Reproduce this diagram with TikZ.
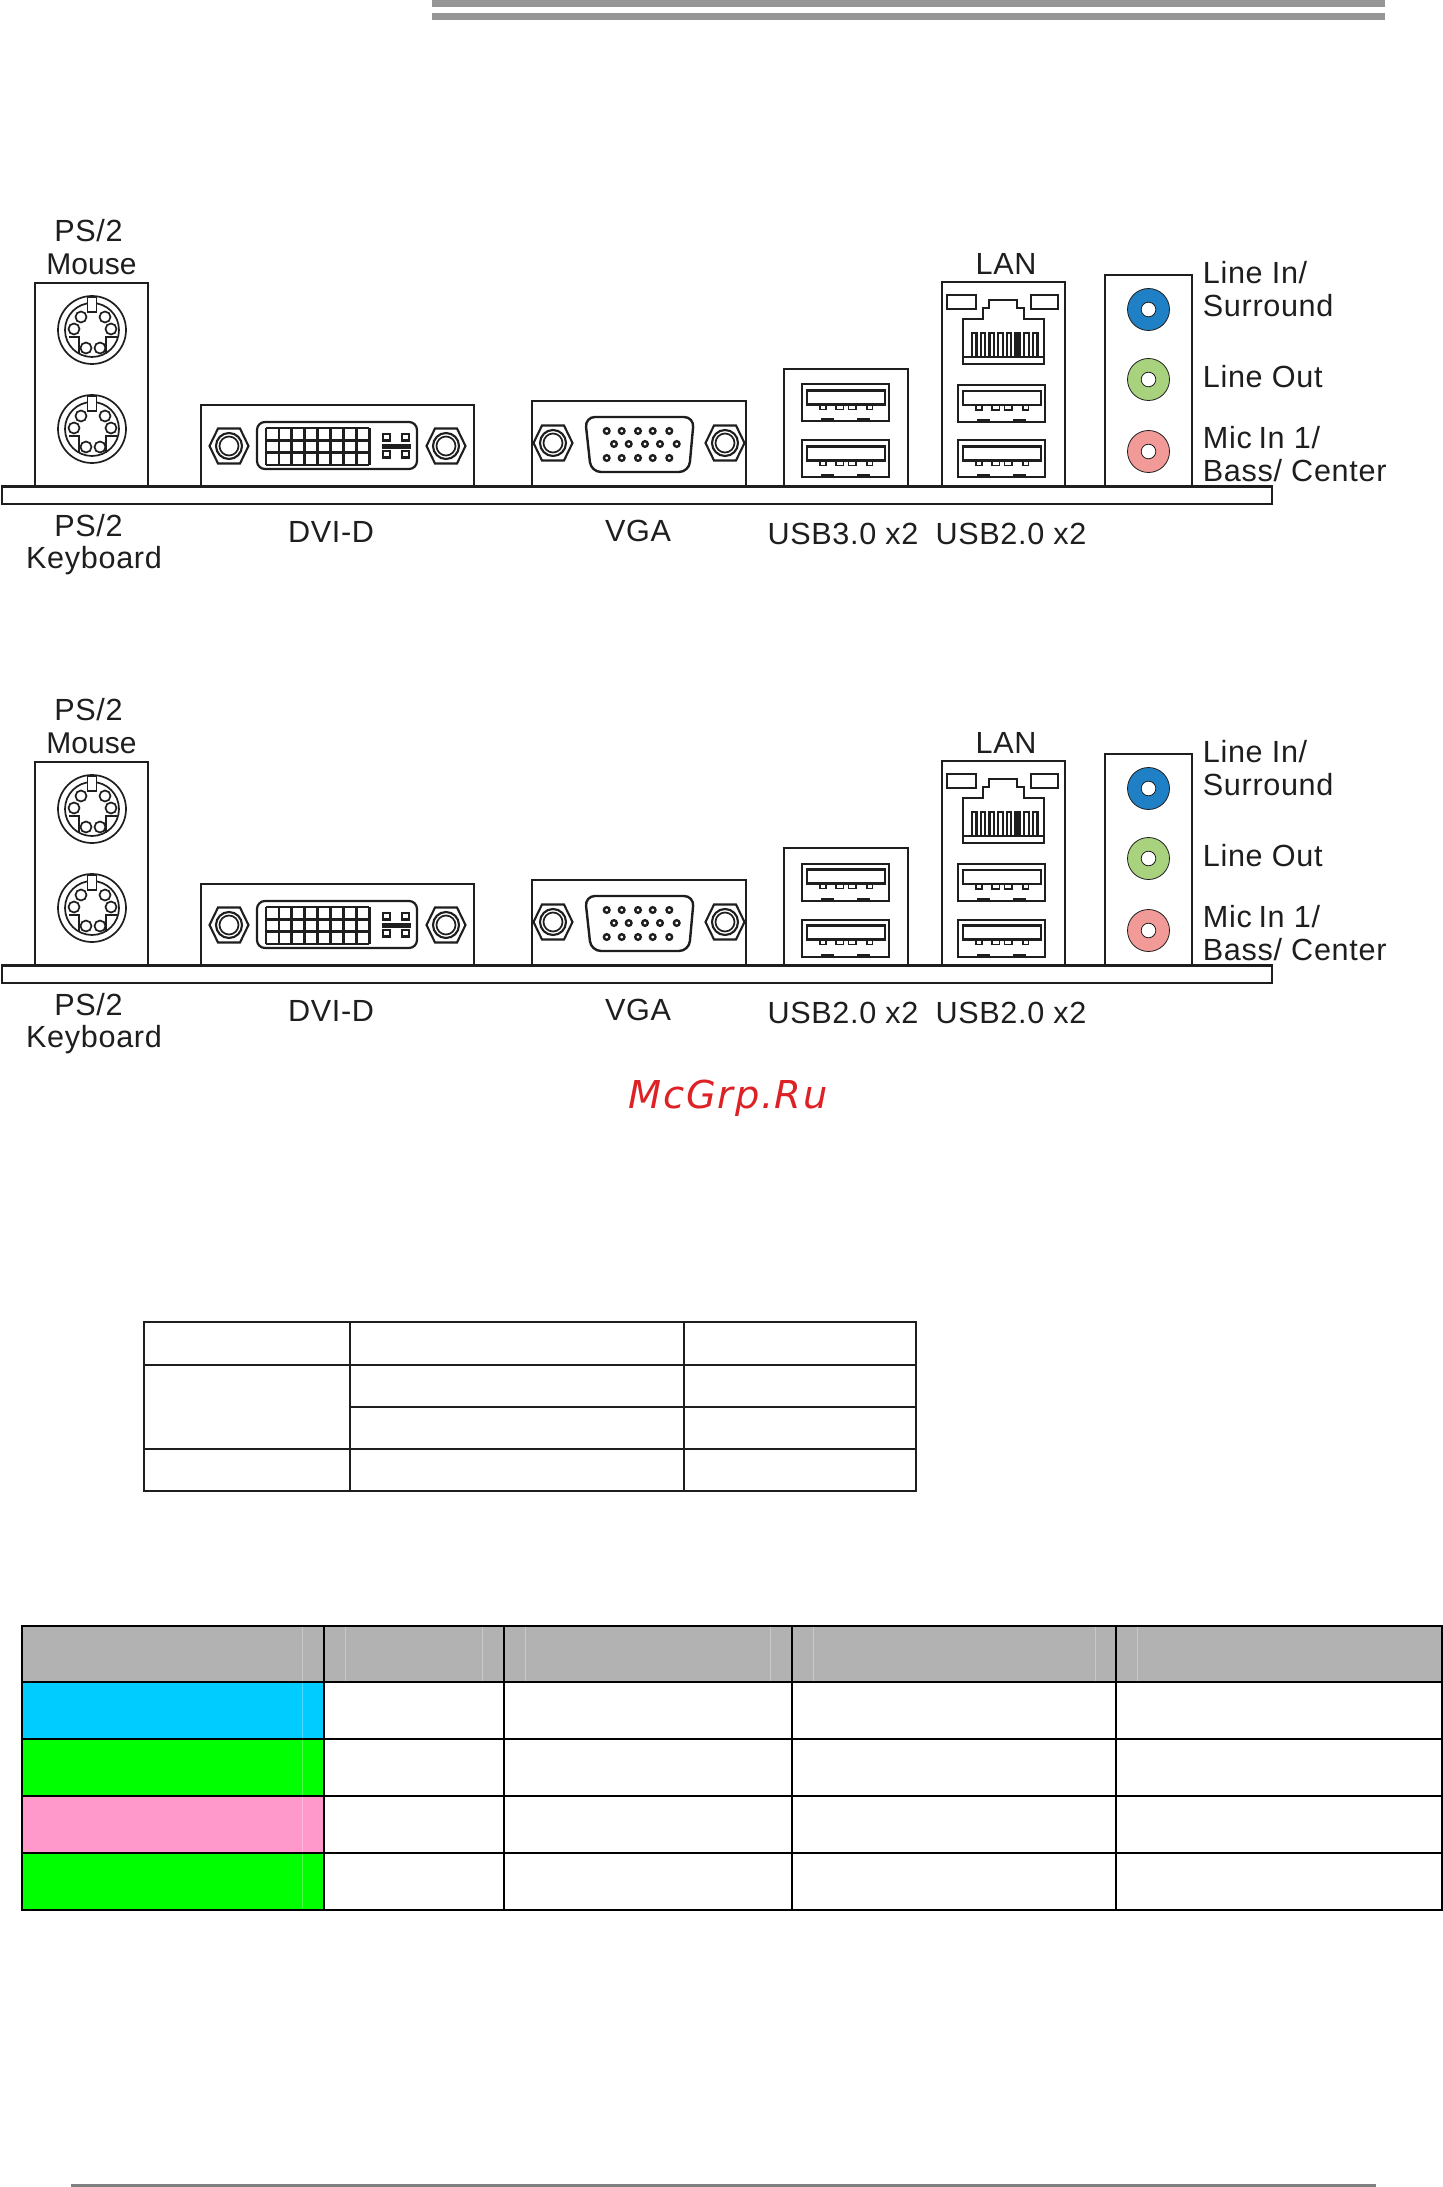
\documentclass[tikz,border=0pt]{standalone}
\usepackage{fontspec}
\newfontfamily\portfont[LetterSpace=2.2]{Liberation Sans}
\newfontfamily\tightfont{Liberation Sans}
\newfontfamily\markfont[LetterSpace=4.2]{DejaVu Sans Oblique}
\definecolor{inkcol}{HTML}{1E1E1E}
\definecolor{rulecol}{HTML}{969696}
\definecolor{footcol}{HTML}{808080}
\definecolor{headcol}{HTML}{B2B2B2}
\definecolor{bluejack}{HTML}{2080C6}
\definecolor{greenjack}{HTML}{A8D27E}
\definecolor{pinkjack}{HTML}{F29A98}
\definecolor{markcol}{HTML}{DD2226}
\definecolor{cyancell}{HTML}{00CCFF}
\definecolor{greencell}{HTML}{00FF00}
\definecolor{pinkcell}{HTML}{FF99CC}
\tikzset{
    portlabel/.style={font=\fontsize{15.3}{16}\portfont, text=inkcol, inner sep=0pt, anchor=base, yshift=-.6pt},
    sidelabel/.style={portlabel, anchor=base west},
    thickline/.style={line width=1.3pt},
    gridline/.style={line width=1pt},
    faintline/.style={white, opacity=.3, line width=.5pt},
    hexnut/.pic={
        \draw[fill=white, line width=1.05pt] (-19.5,0) -- (-11,-17.5) -- (11,-17.5) -- (19.5,0) -- (11,17.5) -- (-11,17.5) -- cycle;
        \draw[line width=1.05pt] (0,0) circle (13);
        \draw (0,0) circle (9.5);
    },
    ps2port/.pic={
        \draw (0,0) circle (34);
        \draw (0,0) circle (27);
        \draw[fill=white] (-4.5,-33) rectangle (4.5,-18);
        \foreach \px/\py in {-11/-13,13/-13,-18/-1,19/-1,-6/18,8/18}
            \draw (\px,\py) ellipse (5.5 and 5.5);
        \draw (-23,7) -- (-13,7) -- (-13,24);
        \draw (25,7) -- (14,7) -- (14,24);
    },
    usbport/.pic={
        \draw[line width=1pt] (0,0) rectangle (87,37);
        \draw[line width=1.2pt] (5,6) rectangle (83,20);
        \foreach \pa/\pb in {18/24,34/41.5,46.5/54,65/70.5}
            \draw[line width=.95pt] (\pa,20) rectangle (\pb,25);
        \fill[inkcol] (19,34) rectangle (32,37);
        \fill[inkcol] (55,34) rectangle (68,37);
    },
    jack/.pic={
        \draw[line width=.4pt, fill=jackfill] (0,0) circle (21);
        \draw[line width=.4pt, fill=white] (0,0) circle (7.3);
    }
}
\colorlet{jackfill}{bluejack}
\begin{document}
\begin{tikzpicture}[x=.5pt, y=-.5pt, line width=.85pt, draw=inkcol]
    \useasboundingbox (0,0) rectangle (1443,2187);
    % top rules
    \fill[rulecol] (432,0) rectangle (1385,7);
    \fill[rulecol] (432,13) rectangle (1385,20);
    % the two back panels
    \foreach \dy/\usbtext in {0/USB3.0 x2,479/USB2.0 x2} {
    \begin{scope}[shift={(0,\dy)}]
        % PS/2
        \draw (35,486) -- (35,283) -- (148,283) -- (148,486);
        \pic at (92,330) {ps2port};
        \pic at (92,429) {ps2port};
        \node[portlabel] (mousetop\dy) at (88.5,240) {PS/2};
        \node[portlabel, font=\fontsize{15}{16}\tightfont] (mousetxt\dy) at (91.5,273) {Mouse};
        \node[portlabel] (kbtop\dy) at (88.5,535) {PS/2};
        \node[portlabel] (kbtxt\dy) at (94,567) {Keyboard};
        % DVI
        \draw (201,486) -- (201,405) -- (474,405) -- (474,486);
        \pic at (229,446) {hexnut};
        \pic at (446,446) {hexnut};
        \draw[rounded corners=4pt, line width=1.1pt] (257,422) -- (417,422) -- (417,469) -- (257,469) -- cycle;
        \foreach \i in {0,...,8}
            \draw[line width=1.35pt] ({266+12.9*\i},428) -- ({266+12.9*\i},465);
        \foreach \j in {0,...,3}
            \draw[line width=1.35pt] (266,{428+12.33*\j}) -- (369,{428+12.33*\j});
        \foreach \px in {383,402}
            \foreach \py in {434,451}
                \draw[line width=1.1pt] (\px,\py) rectangle ++(7,6.5);
        \fill[inkcol] (382,444) rectangle (411,449);
        \node[portlabel] (dvitxt\dy) at (331,541) {DVI-D};
        % VGA
        \draw (532,486) -- (532,401) -- (746,401) -- (746,486);
        \pic at (553,443) {hexnut};
        \pic at (725,443) {hexnut};
        \draw[rounded corners=5pt, line width=1.2pt] (585,417) -- (694,417) -- (689,472) -- (591,472) -- cycle;
        \foreach \px in {606.7,621.7,638,652.7,669.3} {
            \draw[line width=1.2pt] (\px,431) circle (2.8);
            \draw[line width=1.2pt] (\px,458) circle (2.8);
        }
        \foreach \px in {614,628.7,645,660,676.7}
            \draw[line width=1.2pt] (\px,444) circle (2.8);
        \node[portlabel] (vgatxt\dy) at (638,540) {VGA};
        % USB
        \draw (784,486) -- (784,369) -- (908,369) -- (908,486);
        \pic at (802,384.5) {usbport};
        \pic at (802,440.5) {usbport};
        \node[portlabel] (usbtxt\dy) at (843,543) {\usbtext};
        % LAN with USB
        \draw[line width=1pt] (941.5,486) -- (941.5,282) -- (1065,282) -- (1065,486);
        \draw[line width=1.1pt] (947,295) rectangle (976,309);
        \draw[line width=1.1pt] (1031,295) rectangle (1058,309);
        \draw[line width=1.1pt] (963,364) -- (963,319) -- (983,319) -- (983,308) -- (989,308) -- (989,300)
            -- (1017,300) -- (1017,308) -- (1024,308) -- (1024,319) -- (1044,319) -- (1044,364) -- cycle;
        \draw[line width=1.3pt] (963,357) -- (1044,357);
        \foreach \i in {0,...,7}
            \draw[line width=1.1pt] (972+8.7*\i,357) -- (972+8.7*\i,333) -- (976.5+8.7*\i,333) -- (976.5+8.7*\i,357);
        \fill[inkcol] (1014,333) rectangle (1018.5,357);
        \pic at (958,385) {usbport};
        \pic at (958,440.5) {usbport};
        \node[portlabel] (lantxt\dy) at (1006,273) {LAN};
        \node[portlabel] (usbltxt\dy) at (1011,543) {USB2.0 x2};
        % audio
        \draw[line width=1pt] (1105,486) -- (1105,275) -- (1192,275) -- (1192,486);
        \colorlet{jackfill}{bluejack}
        \pic at (1148.5,309.5) {jack};
        \colorlet{jackfill}{greenjack}
        \pic at (1148.5,379.5) {jack};
        \colorlet{jackfill}{pinkjack}
        \pic at (1148.5,451.5) {jack};
        \node[sidelabel] (linein\dy) at (1202,282) {Line In/};
        \node[sidelabel] (surround\dy) at (1202,315) {Surround};
        \node[sidelabel] (lineout\dy) at (1202,386) {Line Out};
        \node[sidelabel] (micin\dy) at (1202,447) {Mic\hspace{-.08em} In 1/};
        \node[sidelabel] (basscenter\dy) at (1202,480) {Bass/ Center};
        % bar
        \draw[thickline, fill=white] (2,486.5) rectangle (1272,504);
    \end{scope}
    }
    \node[inner sep=0pt, anchor=base west, text=markcol, font=\fontsize{19.2}{20}\markfont] (mcgrp) at (628,1108) {McGrp.Ru};
    % small table
    \draw[gridline] (143.5,1322) rectangle (916,1491);
    \foreach \cx in {350,684}
        \draw[gridline] (\cx,1322) -- (\cx,1491);
    \foreach \cy in {1365,1449}
        \draw[gridline] (143.5,\cy) -- (916,\cy);
    \draw[gridline] (350,1407) -- (916,1407);
    % colour table
    \fill[headcol] (22,1626) rectangle (1442,1682);
    \fill[cyancell] (22,1682) rectangle (324,1739);
    \fill[greencell] (22,1739) rectangle (324,1796);
    \fill[pinkcell] (22,1796) rectangle (324,1853);
    \fill[greencell] (22,1853) rectangle (324,1910);
    \foreach \fx in {345,482,525,770,813,1095,1137}
        \draw[faintline] (\fx,1627) -- (\fx,1681);
    \draw[faintline] (302,1627) -- (302,1908);
    \draw[gridline, black] (22,1626) rectangle (1442,1910);
    \foreach \cx in {324,504,792,1116}
        \draw[gridline, black] (\cx,1626) -- (\cx,1910);
    \foreach \cy in {1682,1739,1796,1853}
        \draw[gridline, black] (22,\cy) -- (1442,\cy);
    % foot rule
    \fill[footcol] (71,2184) rectangle (1376,2187);
\end{tikzpicture}
\end{document}
